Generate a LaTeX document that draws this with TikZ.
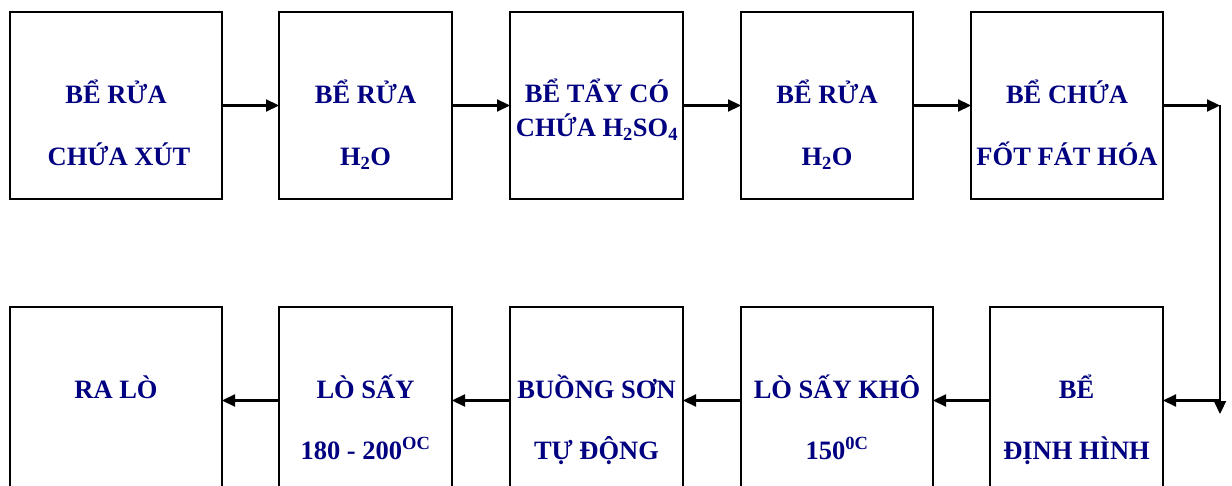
\documentclass[tikz,border=0pt]{standalone}
\usepackage{fontspec}
\setmainfont{Liberation Serif}
\usetikzlibrary{arrows.meta}
\definecolor{navytxt}{RGB}{0,0,128}
\tikzset{
  box/.style={draw=black, line width=2.2pt, fill=white, inner sep=0pt, outer sep=0pt},
  lbl/.style={text=navytxt, font=\fontsize{26.5}{30}\selectfont\bfseries, anchor=base, inner sep=0pt},
  arr/.style={draw=black, line width=2.2pt, -{Triangle[length=13pt,width=12pt]}},
  ln/.style={draw=black, line width=2.2pt}
}
\begin{document}
\begin{tikzpicture}[x=1pt,y=-1pt]
\useasboundingbox (0,0) rectangle (1232,486);
\clip (0,0) rectangle (1232,486);
% top row boxes
\node[box, minimum width=212pt, minimum height=187pt] (t1) at (116,105.5) {};
\node[box, minimum width=173pt, minimum height=187pt] (t2) at (365.5,105.5) {};
\node[box, minimum width=173pt, minimum height=187pt] (t3) at (596.5,105.5) {};
\node[box, minimum width=172pt, minimum height=187pt] (t4) at (827,105.5) {};
\node[box, minimum width=192pt, minimum height=187pt] (t5) at (1067,105.5) {};
% bottom row boxes
\node[box, minimum width=212pt, minimum height=187pt] (b1) at (116,400.5) {};
\node[box, minimum width=173pt, minimum height=187pt] (b2) at (365.5,400.5) {};
\node[box, minimum width=173pt, minimum height=187pt] (b3) at (596.5,400.5) {};
\node[box, minimum width=192pt, minimum height=187pt] (b4) at (837,400.5) {};
\node[box, minimum width=173pt, minimum height=187pt] (b5) at (1076.5,400.5) {};
% labels top row
\node[lbl] (t1a) at (116,104) {BỂ RỬA};
\node[lbl] (t1b) at (119,166) {CHỨA XÚT};
\node[lbl] (t2a) at (365.5,104) {BỂ RỬA};
\node[lbl] (t2b) at (365.5,166) {H\textsubscript{2}O};
\node[lbl] (t3a) at (597,103) {BỂ TẨY CÓ};
\node[lbl] (t3b) at (597,137) {CHỨA H\textsubscript{2}SO\textsubscript{4}};
\node[lbl] (t4a) at (827,104) {BỂ RỬA};
\node[lbl] (t4b) at (827,166) {H\textsubscript{2}O};
\node[lbl] (t5a) at (1067,104) {BỂ CHỨA};
\node[lbl] (t5b) at (1067,166) {FỐT FÁT HÓA};
% labels bottom row
\node[lbl] (b1a) at (116,398) {RA LÒ};
\node[lbl] (b2a) at (365.5,398) {LÒ SẤY};
\node[lbl] (b2b) at (365.5,459) {180 - 200\textsuperscript{OC}};
\node[lbl] (b3a) at (596.5,398) {BUỒNG SƠN};
\node[lbl] (b3b) at (596.5,459) {TỰ ĐỘNG};
\node[lbl] (b4a) at (837,398) {LÒ SẤY KHÔ};
\node[lbl] (b4b) at (837,459) {150\textsuperscript{0C}};
\node[lbl] (b5a) at (1076.5,398) {BỂ};
\node[lbl] (b5b) at (1076.5,459) {ĐỊNH HÌNH};
% connectors
\coordinate (c1) at (1220,105.5);
\coordinate (c2) at (1220,400.5);
\coordinate (c3) at (1220,414);
\draw[arr] (t1.east) -- (t2.west);
\draw[arr] (t2.east) -- (t3.west);
\draw[arr] (t3.east) -- (t4.west);
\draw[arr] (t4.east) -- (t5.west);
\draw[arr] (t5.east) -- (c1);
\draw[arr] (c1) -- (c3);
\draw[arr] (c2) -- (b5.east);
\draw[arr] (b5.west) -- (b4.east);
\draw[arr] (b4.west) -- (b3.east);
\draw[arr] (b3.west) -- (b2.east);
\draw[arr] (b2.west) -- (b1.east);
\end{tikzpicture}
\end{document}
